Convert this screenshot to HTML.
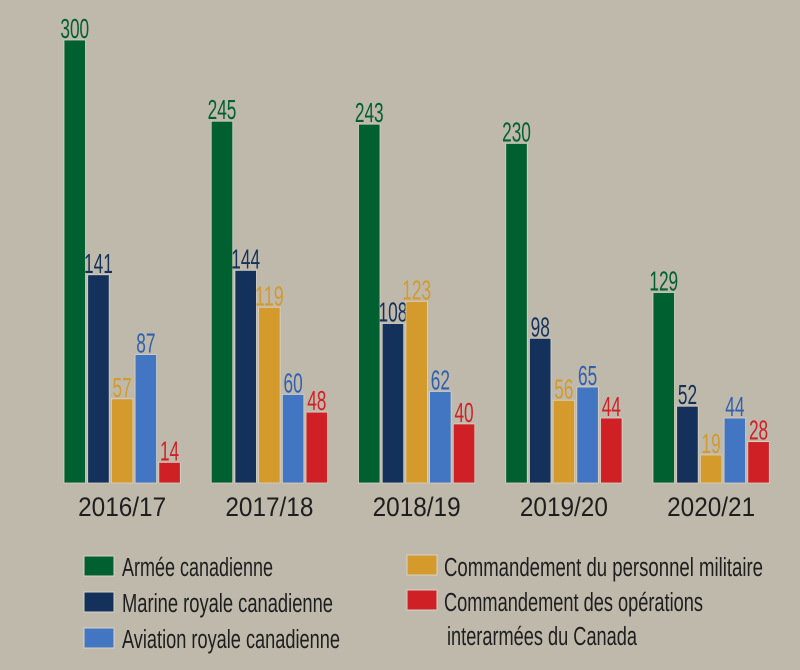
<!DOCTYPE html>
<html><head><meta charset="utf-8"><style>
html,body{margin:0;padding:0;background:#bfb9ac;}
svg{display:block;font-family:"Liberation Sans Narrow","Liberation Sans",sans-serif;}
</style></head><body>
<svg id="chart" width="800" height="670" viewBox="0 0 800 670" xmlns="http://www.w3.org/2000/svg">
<rect x="0" y="0" width="800" height="670" fill="#bfb9ac"/>
<g id="bars"></g>
<g id="labels"></g>
<g font-size="25.5" fill="#1e1e1e">
 <rect x="84" y="556" width="30" height="20" fill="#00602f" stroke="#d8d2c4" stroke-width="1"/>
 <text x="122" y="576" textLength="151" lengthAdjust="spacingAndGlyphs">Armée canadienne</text>
 <rect x="84" y="592" width="30" height="20" fill="#13315a" stroke="#d8d2c4" stroke-width="1"/>
 <text x="122" y="612" textLength="211" lengthAdjust="spacingAndGlyphs">Marine royale canadienne</text>
 <rect x="84" y="628" width="30" height="20" fill="#4276c2" stroke="#d8d2c4" stroke-width="1"/>
 <text x="122" y="648" textLength="218" lengthAdjust="spacingAndGlyphs">Aviation royale canadienne</text>
 <rect x="407" y="555" width="30" height="20" fill="#d49a2b" stroke="#d8d2c4" stroke-width="1"/>
 <text x="444" y="576" textLength="319" lengthAdjust="spacingAndGlyphs">Commandement du personnel militaire</text>
 <rect x="407" y="590" width="30" height="20" fill="#cf2026" stroke="#d8d2c4" stroke-width="1"/>
 <text x="444" y="611" textLength="259" lengthAdjust="spacingAndGlyphs">Commandement des opérations</text>
 <text x="447" y="645" textLength="190" lengthAdjust="spacingAndGlyphs">interarmées du Canada</text>
</g>
</svg>
<script>
const categories = ["2016/17","2017/18","2018/19","2019/20","2020/21"];
const armee = [300,245,243,230,129];
const marine = [141,144,108,98,52];
const personnel = [57,119,123,56,19];
const aviation = [87,60,62,65,44];
const operations = [14,48,40,44,28];

const series = [
  {key:"armee", vals:armee, fill:"#00602f", text:"#00602f"},
  {key:"marine", vals:marine, fill:"#13315a", text:"#13315a"},
  {key:"personnel", vals:personnel, fill:"#d49a2b", text:"#d49a2b"},
  {key:"aviation", vals:aviation, fill:"#4276c2", text:"#2f5fb0"},
  {key:"operations", vals:operations, fill:"#cf2026", text:"#cf2026"}
];
const NS = "http://www.w3.org/2000/svg";
const baseY = 483, pxPerUnit = 443/300;
const groupX0 = 64, groupStep = 147.25, barStep = 23.7, barW = 21.5;
function y(v){ return baseY - v*pxPerUnit; }
function gx(i){ return groupX0 + i*groupStep; }
const barsG = document.getElementById('bars');
const labG = document.getElementById('labels');
categories.forEach((c,i)=>{
  series.forEach((s,j)=>{
    const v = s.vals[i];
    const x = gx(i) + j*barStep;
    const r = document.createElementNS(NS,'rect');
    
    
    r.setAttribute('x', x); r.setAttribute('y', y(v));
    r.setAttribute('width', barW); r.setAttribute('height', baseY - y(v));
    r.setAttribute('fill', s.fill);
    r.setAttribute('stroke', '#d8d2c4'); r.setAttribute('stroke-width','0.8');
    barsG.appendChild(r);
    const t = document.createElementNS(NS,'text');
    
    
    const str = String(v);
    t.setAttribute('x', x + barW/2); t.setAttribute('y', y(v) - 2);
    t.setAttribute('text-anchor','middle');
    t.setAttribute('font-size','28');
    t.setAttribute('fill', s.text);
    t.setAttribute('textLength', str.length*9.6);
    t.setAttribute('lengthAdjust','spacingAndGlyphs');
    t.textContent = str;
    barsG.appendChild(t);
  });
  const ct = document.createElementNS(NS,'text');
  
  
  ct.setAttribute('x', gx(i) + 2*barStep + barW/2);
  ct.setAttribute('y', 516);
  ct.setAttribute('text-anchor','middle');
  ct.setAttribute('font-size','27');
  ct.setAttribute('fill','#1e1e1e');
  ct.setAttribute('textLength', 88);
  ct.setAttribute('lengthAdjust','spacingAndGlyphs');
  ct.textContent = c;
  labG.appendChild(ct);
});
</script>
</body></html>
